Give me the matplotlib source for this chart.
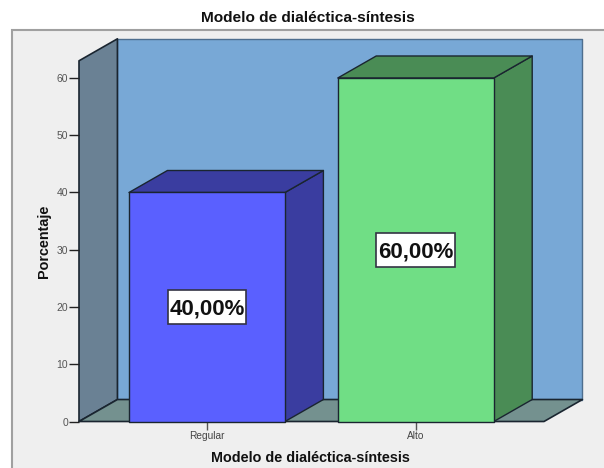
import matplotlib
matplotlib.use('Agg')
import matplotlib.pyplot as plt
from matplotlib.patches import Rectangle, Polygon

categories = ['Regular', 'Alto']
percent = [40.0, 60.0]
labels = ['40,00%', '60,00%']
yticks = [0, 10, 20, 30, 40, 50, 60]

front_colors = ['#5A60FF', '#70DE85']
side_colors = ['#3A3DA0', '#4A8C55']
wall_color = '#78A8D6'
side_wall_color = '#6A8194'
floor_color = '#74918F'
panel_color = '#EFEFEF'
edge = '#1A2530'

W, H = 604, 468
plt.rcParams['font.family'] = ['Liberation Sans', 'DejaVu Sans']

fig = plt.figure(figsize=(W / 100, H / 100), dpi=100)

# grey panel behind the chart, it runs off the right and bottom of the image
fig.add_artist(Rectangle((12 / W, -0.1), 1, 1.1 - 30 / H, transform=fig.transFigure,
                         facecolor=panel_color, edgecolor='#A0A0A0', lw=1.5, zorder=-1))

# axes is the front plane of the 3d box
ax = fig.add_axes([79 / W, 1 - 421.5 / H, 465 / W, 360.7 / H])
ax.set_xlim(-0.613, 1.614)
ax.set_ylim(0, 63)
ax.patch.set_visible(False)

# depth of the fake 3d, in data units
dx = 0.184
dy = 3.84
x0, x1 = ax.get_xlim()
top = ax.get_ylim()[1]


def poly(points, color, z=1, lw=1.0, ec=edge):
    ax.add_patch(Polygon(points, closed=True, facecolor=color, edgecolor=ec,
                         lw=lw, zorder=z, clip_on=False, joinstyle='round'))


# back wall, side wall, floor
poly([(x0 + dx, dy), (x1 + dx, dy), (x1 + dx, top + dy), (x0 + dx, top + dy)], wall_color, ec='#4E6E8E')
poly([(x0, 0), (x0 + dx, dy), (x0 + dx, top + dy), (x0, top)], side_wall_color, lw=1.2)
poly([(x0, 0), (x1, 0), (x1 + dx, dy), (x0 + dx, dy)], floor_color, lw=1.2)

width = 0.747
box_w = 0.378
box_h = 5.9
for i, val in enumerate(percent):
    left = i - width / 2
    right = i + width / 2
    poly([(right, 0), (right + dx, dy), (right + dx, val + dy), (right, val)], side_colors[i], z=3)
    poly([(left, val), (right, val), (right + dx, val + dy), (left + dx, val + dy)], side_colors[i], z=3)
    poly([(left, 0), (right, 0), (right, val), (left, val)], front_colors[i], z=4)
    ax.add_patch(Rectangle((i - box_w / 2, val / 2 - box_h / 2), box_w, box_h, facecolor='white',
                           edgecolor='#333344', lw=1.2, zorder=5))
    ax.text(i, val / 2, labels[i], ha='center', va='center_baseline', fontsize=16, fontweight='bold',
            color='#111111', zorder=6)

for s in ax.spines.values():
    s.set_visible(False)

ax.set_xticks(range(len(categories)))
ax.set_xticklabels(categories, fontsize=7.3, color='#444444')
ax.set_yticks(yticks)
ax.tick_params(axis='y', labelsize=7.5, labelcolor='#555555', length=7, width=1, pad=1, color='#222222')
ax.tick_params(axis='x', length=6, width=1, pad=1, color='#555555')

fig.text(308 / W, 1 - 18 / H, 'Modelo de dialéctica-síntesis', ha='center', va='center',
         fontsize=11.1, fontweight='bold', color='#111111')
fig.text(310.5 / W, 1 - 458.5 / H, 'Modelo de dialéctica-síntesis', ha='center', va='center',
         fontsize=10.4, fontweight='bold', color='#111111')
fig.text(44 / W, 1 - 241 / H, 'Porcentaje', rotation=90, ha='center', va='center',
         fontsize=10.4, fontweight='bold', color='#111111')

fig.savefig('out.png', dpi=100)
